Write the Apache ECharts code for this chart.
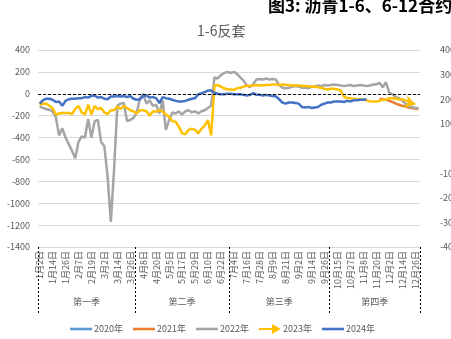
<!DOCTYPE html>
<html><head><meta charset="utf-8">
<script src="https://cdn.jsdelivr.net/npm/echarts@6/dist/echarts.min.js"></script>
<style>html,body{margin:0;padding:0;background:#fff}#c{width:451px;height:339px}</style>
</head><body><div id="c"></div>
<script>
const cats = [
'1月2日','1月5日','1月8日','1月11日','1月14日','1月17日','1月20日','1月23日','1月26日','1月29日',
'2月1日','2月4日','2月7日','2月10日','2月13日','2月16日','2月19日','2月22日','2月25日','2月28日',
'3月2日','3月5日','3月8日','3月11日','3月14日','3月17日','3月20日','3月23日','3月26日','3月29日',
'4月1日','4月4日','4月8日','4月11日','4月14日','4月17日','4月20日','4月23日','4月26日','4月29日',
'5月5日','5月8日','5月11日','5月14日','5月17日','5月20日','5月23日','5月26日','5月29日','6月1日',
'6月4日','6月7日','6月10日','6月13日','6月16日','6月19日','6月22日','6月25日','6月28日','7月1日',
'7月4日','7月7日','7月10日','7月13日','7月16日','7月19日','7月22日','7月25日','7月28日','7月31日',
'8月3日','8月6日','8月9日','8月12日','8月15日','8月18日','8月21日','8月24日','8月27日','8月30日',
'9月2日','9月5日','9月8日','9月11日','9月14日','9月17日','9月20日','9月23日','9月26日','9月29日',
'10月9日','10月12日','10月15日','10月18日','10月21日','10月24日','10月27日','10月30日','11月2日','11月5日',
'11月8日','11月11日','11月14日','11月17日','11月20日','11月23日','11月26日','11月29日','12月2日','12月5日',
'12月8日','12月11日','12月14日','12月17日','12月20日','12月23日','12月26日','12月29日'
];
const quarters = ['第一季','第二季','第三季','第四季'];
const leftTicks = {min:-1400, max:400, step:200};
const rightTicks = {min:-400, max:400, step:100};

const s2020 = [];
const s2021Start = '11月23日';
const s2021 = [-45,-50,-55,-65,-75,-90,-100,-110,-115,-125,-130,-135,-140];
const s2022 = [
-115,-130,-140,-145,-160,-210,-380,-315,-400,-460,
-520,-590,-440,-390,-400,-230,-400,-250,-240,-440,
-480,-760,-1170,-690,-110,-90,-85,-250,-240,-220,
-170,-40,0,-90,-60,-110,-100,-180,-60,-330,
-240,-170,-180,-160,-190,-160,-150,-170,-160,-180,
-160,-150,-130,-110,150,140,170,190,200,190,
200,180,150,120,75,60,90,130,135,130,
140,130,135,130,80,55,50,55,65,70,
65,55,55,50,65,70,75,70,80,75,
80,85,80,75,70,75,80,70,75,80,
75,70,75,85,85,100,60,105,10,-5,
-30,-40,-60,-90,-115,-120,-130,-130
];
const s2023 = [
-100,-90,-90,-110,-130,-190,-180,-175,-175,-175,
-185,-140,-110,-170,-190,-100,-190,-110,-140,-130,
-170,-185,-150,-150,-115,-140,-110,-130,-150,-160,
-180,-150,-150,-160,-200,-160,-165,-150,-160,-190,
-210,-250,-255,-300,-360,-370,-330,-320,-330,-360,
-320,-290,-240,-380,75,80,65,50,40,40,
35,50,55,65,75,70,75,80,75,78,
80,82,85,85,80,85,82,80,75,78,
75,72,70,68,65,67,60,55,45,40,
45,45,40,30,-25,-40,-40,-45,-50,-50,
-55,-60,-70,-70,-70,-65,-55,-55,-40,-40,
-45,-50,-50,-60,-70,-85,-95
];
const s2024 = [
-90,-60,-45,-45,-55,-75,-70,-110,-65,-50,
-45,-45,-40,-40,-30,-35,-20,-15,-35,-30,
-45,-50,-25,-25,-20,-25,-20,-30,-20,-45,
-55,-50,-20,-15,-35,-30,-40,-85,-30,-40,
-45,-55,-65,-70,-70,-65,-55,-45,-40,-5,
5,15,30,30,10,0,-5,-5,0,0,
-5,-5,-5,-10,-15,-10,5,-10,-10,-15,
-10,-15,-20,-25,-50,-80,-90,-80,-80,-85,
-90,-120,-125,-120,-130,-125,-120,-100,-90,-80,
-80,-70,-70,-70,-75,-65,-70,-60,-60,-55,
-55,-50
];

// quarter boundaries derived from the category months
const monthOf = c => parseInt(c.split('月')[0], 10);
const qBounds = [0];
[4,7,10].forEach(m => qBounds.push(cats.findIndex(c => monthOf(c) >= m)));
qBounds.push(cats.length);
const qMids = quarters.map((q,k) => (qBounds[k] + qBounds[k+1]) / 2);

const grayTxt = '#595959';
const font = "'Noto Sans CJK SC', 'Liberation Sans', sans-serif";
const linePath = 'path://M0,0 L22,0 L22,2.6 L0,2.6 Z';
const arrowPath = 'path://M0,4 L13,4 L13,0 L22,5 L13,10 L13,6 L0,6 Z';

const i2021 = cats.indexOf(s2021Start);
const d2021 = s2021.map((v,k) => [cats[i2021 + k], v]);
const last2023 = s2023.length - 1;

function lineSeries(name, data, color, extra) {
  return Object.assign({
    name, type:'line', data, xAxisIndex:0, yAxisIndex:0,
    showSymbol:false, symbol:'none', connectNulls:false,
    lineStyle:{width:2.5, color}, itemStyle:{color}
  }, extra || {});
}

const chart = echarts.init(document.getElementById('c'), null, {renderer:'canvas'});
chart.setOption({
  animation:false,
  textStyle:{fontFamily:font},
  title:[
    {text:'1-6反套', left:192, top:19, textStyle:{fontSize:14, fontWeight:'normal', color:grayTxt, fontFamily:font}},
    {text:'图3: 沥青1-6、6-12合约价差', left:263, top:-8, textStyle:{fontSize:17, fontWeight:'bold', color:'#000', fontFamily:font}}
  ],
  grid:{left:38, right:31, top:50, bottom:92, containLabel:false, outerBoundsMode:'none'},
  legend:{
    left:65, top:319, itemWidth:22, itemHeight:10, itemGap:10, symbolKeepAspect:true,
    textStyle:{fontSize:9, color:grayTxt, fontFamily:font, padding:[0,0,0,-3]},
    data:[
      {name:'2020年', icon:linePath},
      {name:'2021年', icon:linePath},
      {name:'2022年', icon:linePath},
      {name:'2023年', icon:arrowPath},
      {name:'2024年', icon:linePath}
    ]
  },
  xAxis:[
    {type:'category', data:cats, boundaryGap:true,
     axisLine:{show:false, onZero:false}, axisTick:{show:false}, splitLine:{show:false},
     axisLabel:{interval:3, rotate:90, fontSize:9, color:grayTxt, margin:4, fontFamily:font}},
    {type:'value', min:0, max:cats.length, position:'bottom', offset:0,
     axisLine:{show:false, onZero:false}, splitLine:{show:false},
     axisTick:{show:true, customValues:qBounds, length:66, lineStyle:{type:[2,2], color:'#000', width:1}},
     axisLabel:{customValues:qMids, formatter:v => quarters[qMids.indexOf(v)] || '', margin:50, fontSize:9, color:grayTxt, fontFamily:font}}
  ],
  yAxis:[
    {type:'value', min:leftTicks.min, max:leftTicks.max, interval:leftTicks.step,
     axisLine:{show:false}, axisTick:{show:false},
     axisLabel:{fontSize:9, color:grayTxt, margin:8, fontFamily:font, formatter:v => String(v)},
     splitLine:{lineStyle:{color:'#D9D9D9', width:1}}},
    {type:'value', min:rightTicks.min, max:rightTicks.max, interval:rightTicks.step, position:'right',
     axisLine:{show:false}, axisTick:{show:false}, splitLine:{show:false},
     axisLabel:{fontSize:9, color:grayTxt, margin:20, fontFamily:font, formatter:v => v === 0 ? '' : String(v)}}
  ],
  series:[
    lineSeries('2020年', s2020, '#5B9BD5'),
    lineSeries('2021年', d2021, '#ED7D31'),
    lineSeries('2022年', s2022, '#A5A5A5'),
    lineSeries('2023年', s2023, '#FFC000', {
      markPoint:{silent:true, symbol:'arrow', symbolSize:[10,10], symbolRotate:-105,
        label:{show:false}, itemStyle:{color:'#FFC000'},
        data:[{coord:[cats[last2023], s2023[last2023]]}]}
    }),
    lineSeries('2024年', s2024, '#4472C4', {
      markLine:{silent:true, symbol:'none', label:{show:false},
        lineStyle:{color:'#000', type:[3,2], width:1},
        data:[{yAxis:0}]}
    })
  ]
});
</script></body></html>
